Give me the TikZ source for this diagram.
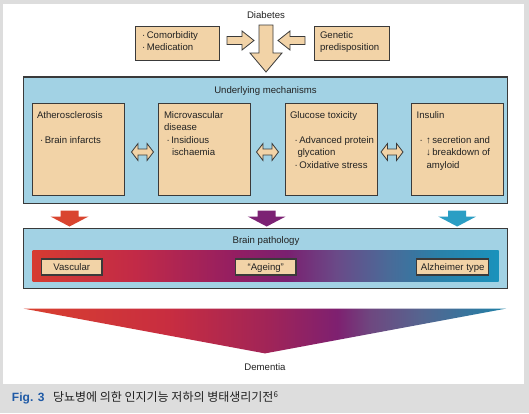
\documentclass[tikz,border=0pt]{standalone}
\usepackage{fontspec}
\setmainfont{Liberation Sans}
\newfontfamily\krfont{Noto Sans CJK KR}
\definecolor{bggray}{HTML}{DDDDDD}
\definecolor{panelblue}{HTML}{A2D2E4}
\definecolor{tanc}{HTML}{F2D3A7}
\definecolor{edgec}{HTML}{3A3A3A}
\definecolor{arrred}{HTML}{D9442F}
\definecolor{arrpur}{HTML}{7C2274}
\definecolor{arrcyan}{HTML}{2B9EC4}
\definecolor{figblue}{HTML}{1F5AA6}
\definecolor{txtc}{HTML}{222222}
% bar gradient colours
\definecolor{ga}{HTML}{D63B31}
\definecolor{gb}{HTML}{C22A47}
\definecolor{gc}{HTML}{931E62}
\definecolor{gd}{HTML}{7A2070}
\definecolor{ge}{HTML}{6A4A88}
\definecolor{gf}{HTML}{4A6A98}
\definecolor{gg}{HTML}{2A80A8}
\definecolor{gh}{HTML}{1A92BC}
\pgfdeclarehorizontalshading{bargrad}{100bp}{color(0bp)=(ga); color(25bp)=(ga); color(36bp)=(gb); color(46.8bp)=(gc); color(52.3bp)=(gd); color(57.6bp)=(ge); color(63.1bp)=(gf); color(68.5bp)=(gg); color(75bp)=(gh); color(100bp)=(gh)}
% triangle gradient colours
\definecolor{ta}{HTML}{D9402F}
\definecolor{tb}{HTML}{C82D40}
\definecolor{tc}{HTML}{A02458}
\definecolor{td}{HTML}{7E2070}
\definecolor{te}{HTML}{6E4880}
\definecolor{tf}{HTML}{556590}
\definecolor{tg}{HTML}{1E82A8}
\pgfdeclarehorizontalshading{trigrad}{100bp}{color(0bp)=(ta); color(25bp)=(ta); color(40bp)=(tb); color(50.5bp)=(tc); color(57.5bp)=(td); color(61bp)=(te); color(66.25bp)=(tf); color(75bp)=(tg); color(100bp)=(tg)}
\begin{document}
\begin{tikzpicture}[x=1pt,y=-1pt,
  every node/.style={inner sep=0pt, outer sep=0pt},
  txt/.style={font=\fontsize{9.6}{12}\selectfont, text=txtc, anchor=base west},
  ctxt/.style={txt, anchor=base},
  tanbox/.style={draw=edgec, fill=tanc, line width=1pt, anchor=north west},
  panel/.style={draw=edgec, fill=panelblue, line width=1.2pt, anchor=north west},
  labbox/.style={draw=edgec, fill=tanc, line width=1.1pt, anchor=north west, minimum height=16pt},
  blockarrow/.style={draw=edgec, fill=tanc, line width=0.8pt, line join=miter},
]
\useasboundingbox (0,0) rectangle (529,413);
\fill[bggray] (0,0) rectangle (529,413);
\fill[white] (3,4) rectangle (524,384);

% ---- top ----
\node[ctxt] (diab) at (266,18) {Diabetes};
\node[tanbox, minimum width=84pt, minimum height=34pt] (como) at (135,26.5) {};
\node[txt] (comot1) at (142,38.5) {·\,Comorbidity};
\node[txt] (comot2) at (142,50.5) {·\,Medication};
\node[tanbox, minimum width=75pt, minimum height=34pt] (gene) at (314,26.5) {};
\node[txt] (genet1) at (320,38.5) {Genetic};
\node[txt] (genet2) at (320,50.5) {predisposition};

\draw[blockarrow] (259,25)--(273,25)--(273,53)--(282,53)--(266,72)--(250,53)--(259,53)--cycle;
\draw[blockarrow] (227,36.5)--(242,36.5)--(242,31)--(254,40.5)--(242,50)--(242,44.5)--(227,44.5)--cycle;
\draw[blockarrow] (305,36.5)--(290,36.5)--(290,31)--(278,40.5)--(290,50)--(290,44.5)--(305,44.5)--cycle;

% ---- underlying mechanisms ----
\node[panel, minimum width=484pt, minimum height=126.5pt] (mech) at (23.5,77) {};
\node[ctxt] (mecht) at (265.5,93.5) {Underlying mechanisms};

\node[tanbox, minimum width=92pt, minimum height=92pt] (ath) at (32.3,103) {};
\node[tanbox, minimum width=92.5pt, minimum height=92pt] (mic) at (158,103) {};
\node[tanbox, minimum width=92pt, minimum height=92pt] (glu) at (285,103) {};
\node[tanbox, minimum width=92pt, minimum height=92pt] (ins) at (411.7,103) {};

\node[txt] (atht1) at (37,118) {Atherosclerosis};
\node[txt] (atht2) at (40,143.3) {·\,Brain infarcts};

\node[txt] (mict1) at (164,118) {Microvascular};
\node[txt] (mict2) at (164,130.7) {disease};
\node[txt] (mict3) at (166.5,143.3) {·\,Insidious};
\node[txt] (mict4) at (172,155.8) {ischaemia};

\node[txt] (glut1) at (290,118) {Glucose toxicity};
\node[txt] (glut2) at (294.5,143.3) {·\,Advanced protein};
\node[txt] (glut3) at (297.5,155.8) {glycation};
\node[txt] (glut4) at (294.5,168.3) {·\,Oxidative stress};

\node[txt] (inst1) at (416.7,118) {Insulin};
\node[txt] (inst2) at (419.5,143.3) {·};
\node[txt] (inst3) at (426,143.3) {↑\,secretion and};
\node[txt] (inst4) at (426,155.8) {↓\,breakdown of};
\node[txt] (inst5) at (426.5,168.3) {amyloid};

\foreach \cx/\nm in {142.5/da1, 267.5/da2, 392/da3}{
  \draw[blockarrow] (\cx-11,152)--(\cx-4.5,143.5)--(\cx-4.5,149)--(\cx+4.5,149)--(\cx+4.5,143.5)--(\cx+11,152)--(\cx+4.5,160.5)--(\cx+4.5,155)--(\cx-4.5,155)--(\cx-4.5,160.5)--cycle;
}

% ---- coloured arrows ----
\foreach \cx/\col in {69.5/arrred, 266.7/arrpur, 457.2/arrcyan}{
  \fill[\col] (\cx-9,210.5)--(\cx+9,210.5)--(\cx+9,216.5)--(\cx+19,216.5)--(\cx,226.5)--(\cx-19,216.5)--(\cx-9,216.5)--cycle;
}

% ---- brain pathology ----
\node[panel, minimum width=484pt, minimum height=60pt] (brain) at (23.5,228.5) {};
\node[ctxt] (braint) at (266,243.5) {Brain pathology};
\path[shading=bargrad] (32.7,250) rectangle (498.6,281.6);
\node[labbox, minimum width=60.5pt] (vasc) at (41.5,259) {};
\node[ctxt] (vasct) at (vasc.center) [yshift=-3.5pt] {Vascular};
\node[labbox, minimum width=60.5pt] (age) at (235.5,259) {};
\node[ctxt] (aget) at (age.center) [yshift=-3.5pt] {“Ageing”};
\node[labbox, minimum width=72pt] (alz) at (416.7,259) {};
\node[ctxt] (alzt) at (alz.center) [yshift=-3.5pt] {Alzheimer type};

% ---- dementia ----
\path[shading=trigrad] (23.6,308.6)--(506,308.6)--(265,353.4)--cycle;
\node[ctxt] (dem) at (265,370) {Dementia};

% ---- caption ----
\node[anchor=base west, font=\fontsize{12}{14}\selectfont\bfseries, text=figblue] (fig) at (12,401.5) {Fig. 3};
\node[anchor=base west, font=\krfont\fontsize{12}{14}\selectfont, text=txtc] (cap) at (53,401.5) {당뇨병에 의한 인지기능 저하의 병태생리기전\textsuperscript{6}};
\end{tikzpicture}
\end{document}
